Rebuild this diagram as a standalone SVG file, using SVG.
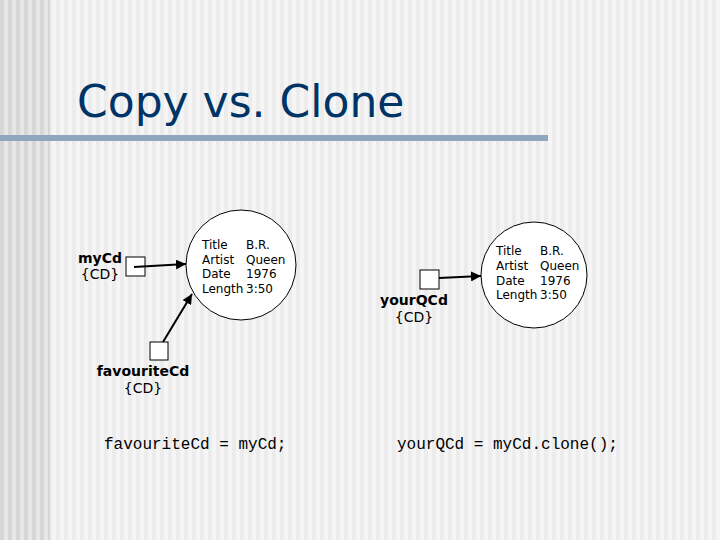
<svg xmlns="http://www.w3.org/2000/svg" width="720" height="540" viewBox="0 0 720 540">
<defs>
<pattern id="st" width="8" height="10" patternUnits="userSpaceOnUse"><rect width="8" height="10" fill="#f5f5f5"/><rect width="4" height="10" fill="#ececec"/></pattern>
<pattern id="st2" width="8" height="10" patternUnits="userSpaceOnUse"><rect width="8" height="10" fill="#e6e6e6"/><rect width="4" height="10" fill="#d6d6d6"/></pattern>
<marker id="ah" viewBox="0 0 10 10" refX="10" refY="5" markerWidth="5" markerHeight="5" orient="auto"><path d="M0,0L10,5L0,10z" fill="#000"/></marker>
</defs>
<style>
.t{font-family:"DejaVu Sans",Verdana,sans-serif;font-size:12px;fill:#000}
.n{font-family:"DejaVu Sans",Verdana,sans-serif;font-size:14px;fill:#000}
.b{font-weight:bold}
.c{font-family:"Liberation Mono","Courier New",monospace;font-size:16px;fill:#000}
.box{fill:#fff;stroke:#000;stroke-width:1}
.obj{fill:#fff;stroke:#000;stroke-width:1}
.ln{stroke:#000;stroke-width:2;fill:none;marker-end:url(#ah)}
</style>
<rect width="720" height="540" fill="url(#st)"/>
<rect width="50" height="540" fill="url(#st2)"/>
<text x="77" y="117" font-family="'DejaVu Sans',Verdana,sans-serif" font-size="44" fill="#003366">Copy vs. Clone</text>
<rect x="0" y="135" width="548" height="6" fill="#8fa6bf"/>
<g id="obj1"><circle class="obj" cx="241" cy="265" r="55"/>
<text class="t" x="202" y="249">Title</text><text class="t" x="246" y="249">B.R.</text>
<text class="t" x="202" y="264">Artist</text><text class="t" x="246" y="264">Queen</text>
<text class="t" x="202" y="278">Date</text><text class="t" x="246" y="278">1976</text>
<text class="t" x="202" y="293">Length</text><text class="t" x="246" y="293">3:50</text></g>
<g id="obj2"><circle class="obj" cx="534" cy="275" r="53"/>
<text class="t" x="496" y="255">Title</text><text class="t" x="540" y="255">B.R.</text>
<text class="t" x="496" y="270">Artist</text><text class="t" x="540" y="270">Queen</text>
<text class="t" x="496" y="285">Date</text><text class="t" x="540" y="285">1976</text>
<text class="t" x="496" y="299">Length</text><text class="t" x="540" y="299">3:50</text></g>
<g id="myCd"><rect class="box" x="126" y="257" width="19" height="19"/>
<text class="n b" x="122" y="263" text-anchor="end">myCd</text><text class="n" x="100" y="279" text-anchor="middle">{CD}</text></g>
<g id="favouriteCd"><rect class="box" x="150" y="342" width="18" height="18"/>
<text class="n b" x="143" y="376" text-anchor="middle">favouriteCd</text><text class="n" x="143" y="393" text-anchor="middle">{CD}</text></g>
<g id="yourQCd"><rect class="box" x="420" y="270" width="19" height="19"/>
<text class="n b" x="414" y="305" text-anchor="middle">yourQCd</text><text class="n" x="414" y="322" text-anchor="middle">{CD}</text></g>
<g id="connectors">
<path class="ln" d="M134,267L186,264"/>
<path class="ln" d="M163,342L192,294"/>
<path class="ln" d="M439,278L481,276"/>
</g>
<text class="c" x="104" y="449">favouriteCd = myCd;</text>
<text class="c" x="397" y="449">yourQCd = myCd.clone();</text>
</svg>
